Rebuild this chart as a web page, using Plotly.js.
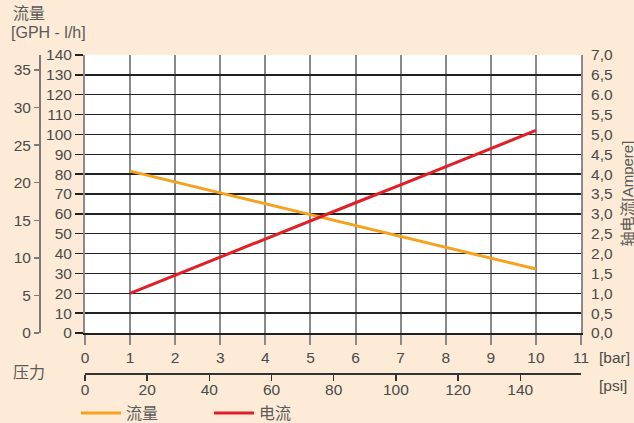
<!DOCTYPE html>
<html>
<head>
<meta charset="utf-8">
<script src="https://cdn.plot.ly/plotly-3.0.1.min.js"></script>
<style>html,body{margin:0;padding:0;background:#FDEBD7;}#chart{width:634px;height:423px;}</style>
</head>
<body>
<div id="chart"></div>
<script>
// ---- data ----
const pressureBar = [1, 2, 3, 4, 5, 6, 7, 8, 9, 10];
const flowLh      = [81.5, 76, 70.5, 65.2, 59.8, 54.2, 48.8, 43.3, 37.8, 32.2];
const currentA    = [1.0, 1.46, 1.92, 2.37, 2.83, 3.28, 3.73, 4.18, 4.63, 5.1];
const barTicks    = [0,1,2,3,4,5,6,7,8,9,10,11];
const psiTicks    = [0,20,40,60,80,100,120,140];
const lhTicks     = [0,10,20,30,40,50,60,70,80,90,100,110,120,130,140];
const gphTicks    = [0,5,10,15,20,25,30,35];
const ampTicks    = [0,0.5,1,1.5,2,2.5,3,3.5,4,4.5,5,5.5,6,6.5,7];
const ampLabels   = ["0,0","0,5","1,0","1,5","2,0","2,5","3,0","3,5","4,0","4,5","5,0","5,5","6.0","6,5","7,0"];
const seriesNames = ["流量", "电流"];
const LH_PER_GPH = 3.785;
const PSI_PER_BAR = 14.5038;

const W = 634, H = 423;
const L = 85, R = 581, T = 55, B = 333;
const BG = '#FDEBD7';
const TXT = '#4a4a4a';
const FONT = 'Liberation Sans, Arial, Noto Sans CJK SC, sans-serif';
const px = v => v / W, py = v => 1 - v / H;

const traces = [
  {x: pressureBar, y: flowLh, name: seriesNames[0], type: 'scatter', mode: 'lines',
   line: {color: '#F7A11E', width: 3}, xaxis: 'x', yaxis: 'y'},
  {x: pressureBar, y: currentA, name: seriesNames[1], type: 'scatter', mode: 'lines',
   line: {color: '#E11F26', width: 3}, xaxis: 'x', yaxis: 'y3'},
  // same flow series expressed in psi / GPH units, invisible: only carries the secondary axes
  {x: pressureBar.map(b => b * PSI_PER_BAR), y: flowLh.map(v => v / LH_PER_GPH),
   type: 'scatter', mode: 'lines', line: {color: 'rgba(0,0,0,0)', width: 0},
   showlegend: false, hoverinfo: 'skip', xaxis: 'x2', yaxis: 'y2'}
];

const tickfont = {family: FONT, size: 15.5, color: TXT};
const layout = {
  width: W, height: H,
  margin: {l: 0, r: 0, t: 0, b: 0, autoexpand: false},
  paper_bgcolor: BG, plot_bgcolor: '#ffffff',
  font: {family: FONT, color: TXT},
  showlegend: true,
  legend: {orientation: 'h', x: px(76), xanchor: 'left', y: py(413), yanchor: 'middle',
           font: {family: FONT, size: 16, color: '#5a5a5a'}, itemwidth: 40,
           entrywidth: 78, entrywidthmode: 'pixels', bgcolor: 'rgba(0,0,0,0)'},
  xaxis: {domain: [px(L), px(R)], range: [0, 11], tickvals: barTicks,
          showgrid: true, gridcolor: '#8a8a8a', gridwidth: 2,
          ticks: 'outside', ticklen: 10, tickwidth: 2, tickcolor: '#8a8a8a',
          showline: true, linecolor: '#222', linewidth: 1.5, zeroline: false,
          tickfont: tickfont, anchor: 'y', fixedrange: true},
  xaxis2: {overlaying: 'x', anchor: 'free', position: py(373), side: 'bottom',
           range: [0, 11 * PSI_PER_BAR], tickvals: psiTicks,
           ticks: 'outside', ticklen: 6, tickwidth: 1.5, tickcolor: '#333',
           showline: true, linecolor: '#333', linewidth: 1.5, showgrid: false, zeroline: false,
           ticklabelstandoff: -4,
           tickfont: tickfont},
  yaxis: {domain: [py(B), py(T)], range: [0, 140], tickvals: lhTicks,
          showgrid: true, gridcolor: '#222', gridwidth: 1.5,
          ticks: 'outside', ticklen: 8, tickwidth: 1.5, tickcolor: '#222',
          showline: true, linecolor: '#8a8a8a', linewidth: 2, zeroline: false,
          tickfont: tickfont, anchor: 'x'},
  yaxis2: {overlaying: 'y', anchor: 'free', position: px(40), side: 'left',
           range: [0, 140 / LH_PER_GPH], tickvals: gphTicks,
           ticks: 'outside', ticklen: 5, tickwidth: 1.5, tickcolor: '#7a7a7a',
           showline: true, linecolor: '#7a7a7a', linewidth: 2, showgrid: false, zeroline: false,
           tickfont: tickfont},
  yaxis3: {overlaying: 'y', anchor: 'x', side: 'right', range: [0, 7],
           tickvals: ampTicks, ticktext: ampLabels,
           ticks: 'outside', ticklen: 5, tickcolor: 'rgba(0,0,0,0)',
           showline: true, linecolor: '#8a8a8a', linewidth: 2, showgrid: false, zeroline: false,
           tickfont: tickfont},
  annotations: [
    {text: '流量', xref: 'paper', yref: 'paper', x: px(11), y: py(13.5), xanchor: 'left', yanchor: 'middle',
     showarrow: false, font: {family: FONT, size: 16, color: '#5a5a5a'}},
    {text: '[GPH - l/h]', xref: 'paper', yref: 'paper', x: px(9), y: py(32.5), xanchor: 'left', yanchor: 'middle',
     showarrow: false, font: {family: FONT, size: 16, color: '#5a5a5a'}},
    {text: '压力', xref: 'paper', yref: 'paper', x: px(11), y: py(372), xanchor: 'left', yanchor: 'middle',
     showarrow: false, font: {family: FONT, size: 16, color: '#5a5a5a'}},
    {text: '[bar]', xref: 'paper', yref: 'paper', x: px(597), y: py(357), xanchor: 'left', yanchor: 'middle',
     showarrow: false, font: {family: FONT, size: 15.5, color: TXT}},
    {text: '[psi]', xref: 'paper', yref: 'paper', x: px(597), y: py(385), xanchor: 'left', yanchor: 'middle',
     showarrow: false, font: {family: FONT, size: 15.5, color: TXT}},
    {text: '轴电流[Ampere]', xref: 'paper', yref: 'paper', x: px(616), y: py(194), xanchor: 'left', yanchor: 'middle',
     textangle: -90, showarrow: false, font: {family: FONT, size: 15, color: '#5a5a5a'}}
  ]
};

Plotly.newPlot('chart', traces, layout, {staticPlot: true, displayModeBar: false});
</script>
</body>
</html>
